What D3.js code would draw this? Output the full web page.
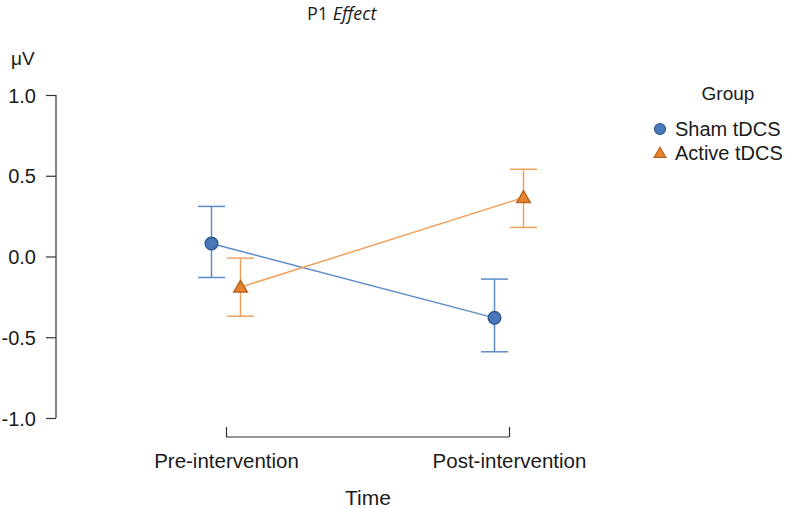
<!DOCTYPE html>
<html>
<head>
<meta charset="utf-8">
<script src="https://cdn.jsdelivr.net/npm/d3@7"></script>
<style>
  body { margin: 0; background: #fff; }
  svg text { font-family: "Liberation Sans", Arial, sans-serif; fill: #1a1a1a; }
</style>
</head>
<body>
<svg id="chart" width="787" height="508"></svg>
<script>
// data
const times = ['Pre-intervention', 'Post-intervention'];
const groups = ['Sham tDCS', 'Active tDCS'];
const shamMean = [0.08, -0.38];
const shamLow = [-0.13, -0.59];
const shamHigh = [0.31, -0.14];
const activeMean = [-0.19, 0.365];
const activeLow = [-0.37, 0.18];
const activeHigh = [-0.01, 0.54];
const yTicks = [1.0, 0.5, 0.0, -0.5, -1.0];

const svg = d3.select('#chart');
const lineColor = ['#5b8bc8', '#f0a25c'],
    fillColor = ['#4a78b8', '#e8842f'],
    strokeColor = ['#2e5a92', '#b8621e'];

const yScale = d3.scaleLinear().domain([-1, 1]).range([418, 95]);
const xScale = d3.scalePoint().domain(times).range([226, 509]);
const offset = [-14.5, 14.5];

// y axis
const yAxis = d3.axisLeft(yScale).tickValues(yTicks).tickSize(10).tickPadding(10)
    .tickFormat(function (d) { return d.toFixed(1); });
svg.append('g').attr('transform', 'translate(56,0)')
    .call(function (g) {
        g.call(yAxis)
        g.select('.domain').remove()
        g.selectAll('.tick line').attr('stroke', '#333').attr('stroke-width', 1.2)
        g.selectAll('.tick text').style('font-size', '20px').attr('dy', '0.35em')
    })
    .append('line')
    .attr('x1', 0).attr('x2', 0).attr('y1', yScale(1)).attr('y2', yScale(-1))
    .attr('stroke', '#333').attr('stroke-width', 1.2);

svg.append('text').attr('x', 11).attr('y', 65).style('font-size', '19px').text('μV');

// x axis bracket
const xAxis = d3.axisBottom(xScale).tickSize(-10).tickPadding(16);
svg.append('g').attr('transform', 'translate(0,437)')
    .call(function (g) {
        g.call(xAxis)
        g.select('.domain').remove()
        g.selectAll('.tick line').attr('stroke', '#333').attr('stroke-width', 1.2)
        g.selectAll('.tick text').style('font-size', '20.5px')
    })
    .append('line')
    .attr('x1', xScale(times[0])).attr('x2', xScale(times[1])).attr('y1', 0).attr('y2', 0)
    .attr('stroke', '#333').attr('stroke-width', 1.2);

svg.append('text').attr('x', 368).attr('y', 505).attr('text-anchor', 'middle')
    .style('font-size', '21px').text('Time');

// title
const title = svg.append('text').attr('x', 307).attr('y', 20)
    .style('font-size', '18px').style('font-family', '"Open Sans", sans-serif');
title.append('tspan').text('P1 ');
title.append('tspan').style('font-style', 'italic').text('Effect');

// series
const series = [
    { mean: shamMean, low: shamLow, high: shamHigh },
    { mean: activeMean, low: activeLow, high: activeHigh }
];
const line = d3.line();
const tri = d3.symbol().type(d3.symbolTriangle).size(78);
const capW = 13.5;

// connecting lines first
series.forEach(function (s, k) {
    const pts = times.map(function (t, i) { return [xScale(t) + offset[k], yScale(s.mean[i])]; });
    svg.append('path').attr('d', line(pts)).attr('fill', 'none')
        .attr('stroke', lineColor[k]).attr('stroke-width', 1.5);
});

series.forEach(function (s, k) {
    const g = svg.append('g');
    times.forEach(function (t, i) {
        const x = xScale(t) + offset[k];
        g.append('line').attr('x1', x).attr('x2', x)
            .attr('y1', yScale(s.high[i])).attr('y2', yScale(s.low[i]))
            .attr('stroke', lineColor[k]).attr('stroke-width', 1.5);
        [s.high[i], s.low[i]].forEach(function (v) {
            g.append('line').attr('x1', x - capW).attr('x2', x + capW)
                .attr('y1', yScale(v)).attr('y2', yScale(v))
                .attr('stroke', lineColor[k]).attr('stroke-width', 1.5);
        });
        if (k === 0) {
            g.append('circle').attr('cx', x).attr('cy', yScale(s.mean[i])).attr('r', 6.3)
                .attr('fill', fillColor[k]).attr('stroke', strokeColor[k]).attr('stroke-width', 1.5);
        } else {
            g.append('path').attr('d', tri)
                .attr('transform', 'translate(' + x + ',' + (yScale(s.mean[i]) + 1) + ')')
                .attr('fill', fillColor[k]).attr('stroke', strokeColor[k]).attr('stroke-width', 1.5);
        }
    });
});

// legend
const legend = svg.append('g');
legend.append('text').attr('x', 728).attr('y', 100).attr('text-anchor', 'middle')
    .style('font-size', '19px').text('Group');
groups.forEach(function (name, k) {
    const y = 129 + k * 24;
    if (k === 0) {
        legend.append('circle').attr('cx', 660).attr('cy', y).attr('r', 5.5)
            .attr('fill', fillColor[k]).attr('stroke', strokeColor[k]).attr('stroke-width', 1.2);
    } else {
        legend.append('path').attr('d', d3.symbol().type(d3.symbolTriangle).size(60))
            .attr('transform', 'translate(660,' + (y + 1) + ')')
            .attr('fill', fillColor[k]).attr('stroke', strokeColor[k]).attr('stroke-width', 1.2);
    }
    legend.append('text').attr('x', 675).attr('y', y + 7).style('font-size', '20px').text(name);
});
</script>
</body>
</html>
